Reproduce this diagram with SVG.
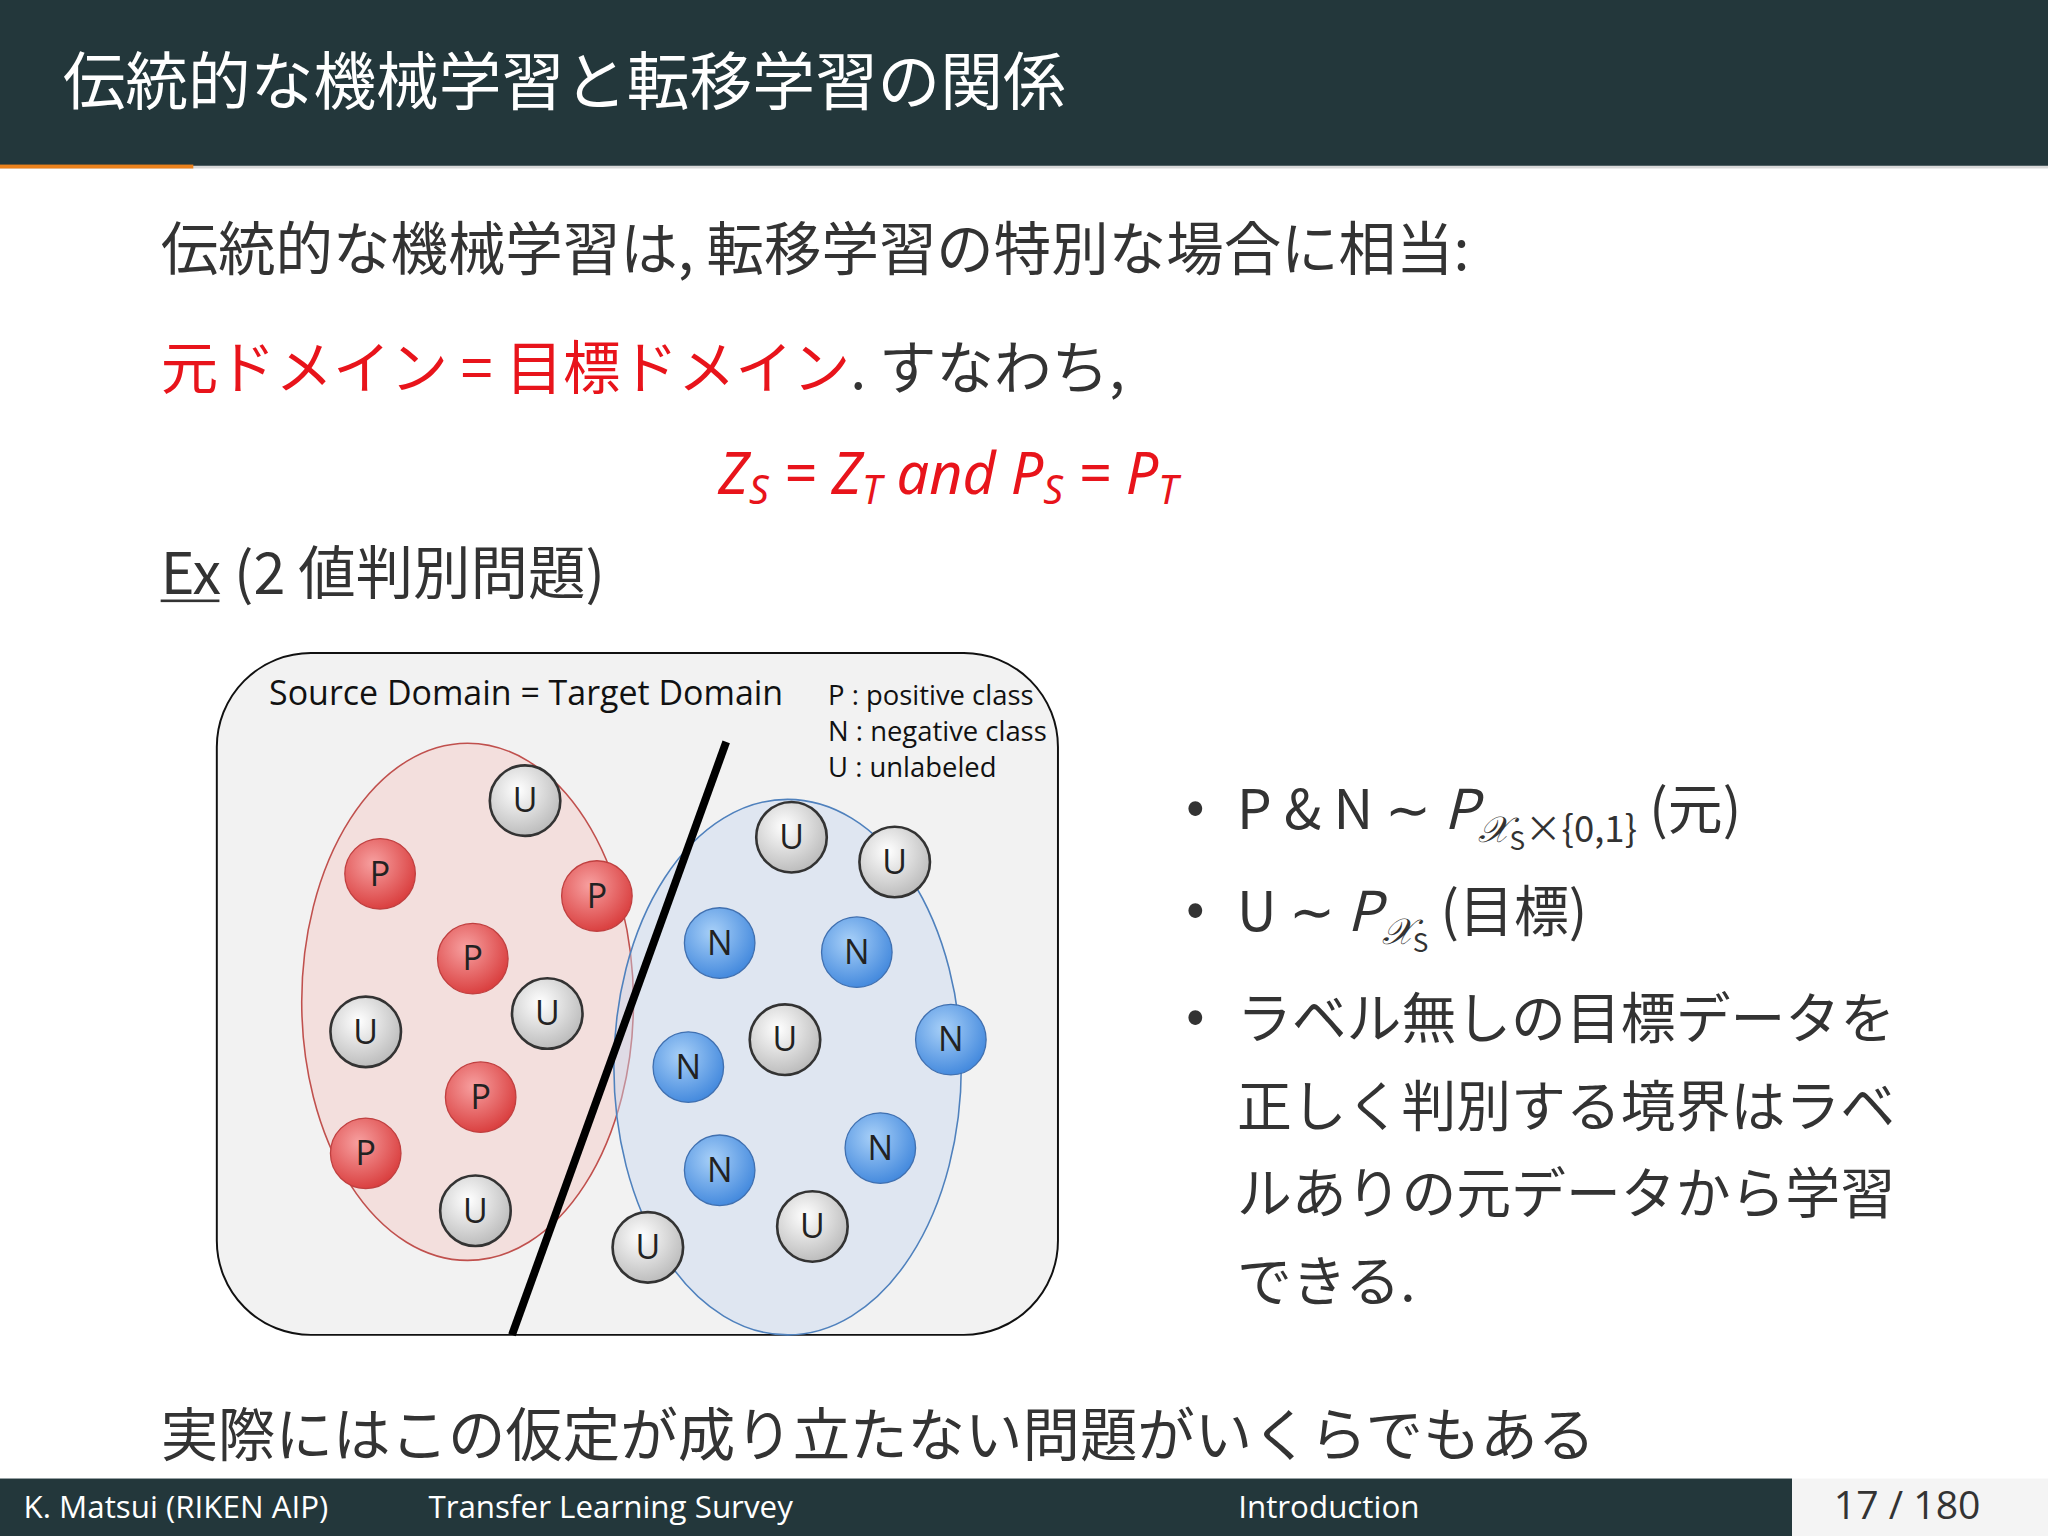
<svg xmlns="http://www.w3.org/2000/svg" width="2048" height="1536" viewBox="0 0 2048 1536">
<style>
.jp{font-family:"Noto Sans CJK JP","Noto Sans",sans-serif}
.t{fill:#333}
.red{fill:#e8141b}
.m{font-family:"Noto Sans","Open Sans",sans-serif;font-style:italic;fill:#e8141b}
.lab{font-family:"Open Sans","Liberation Sans",sans-serif;font-size:26px;text-anchor:middle;fill:#222}
.cP{fill:url(#gP);stroke:#c04040;stroke-width:1}
.cN{fill:url(#gN);stroke:#4070b0;stroke-width:1}
.cU{fill:url(#gU);stroke:#333;stroke-width:2}
.leg{font-family:"Open Sans","Liberation Sans",sans-serif;font-size:21px;fill:#111}
</style>
<defs>
<radialGradient id="gP" cx="0.4" cy="0.35" r="0.7"><stop offset="0" stop-color="#f7a0a0"/><stop offset="1" stop-color="#d83a3a"/></radialGradient>
<radialGradient id="gN" cx="0.4" cy="0.35" r="0.7"><stop offset="0" stop-color="#a8d0f8"/><stop offset="1" stop-color="#3f86dc"/></radialGradient>
<radialGradient id="gU" cx="0.4" cy="0.35" r="0.7"><stop offset="0" stop-color="#ffffff"/><stop offset="1" stop-color="#b8b8b8"/></radialGradient>
</defs>
<rect width="2048" height="1536" fill="#fff"/>
<g transform="scale(1.30612)">
<g id="header">
<rect x="0" y="0" width="1568" height="127" fill="#23373b"/>
<rect x="0" y="127" width="1568" height="2" fill="#d8d8d8"/>
<rect x="0" y="126" width="148" height="3" fill="#eb811b"/>
<text x="48" y="80" class="jp" font-size="48" fill="#fff">伝統的な機械学習と転移学習の関係</text>
</g>
<g id="body">
<text x="123" y="207" class="jp t" font-size="44">伝統的な機械学習は, 転移学習の特別な場合に相当:</text>
<text x="123" y="298" class="jp" font-size="44"><tspan class="red">元ドメイン = 目標ドメイン</tspan><tspan class="t">. すなわち,</tspan></text>
<text x="550" y="378" font-size="44"><tspan class="m">Z</tspan><tspan class="m" font-size="30" dy="8">S</tspan><tspan class="m" font-style="normal" dy="-8"> = </tspan><tspan class="m">Z</tspan><tspan class="m" font-size="30" dy="8">T</tspan><tspan class="m" font-style="normal" dy="-8" font-family="Open Sans">    and    </tspan><tspan class="m">P</tspan><tspan class="m" font-size="30" dy="8">S</tspan><tspan class="m" font-style="normal" dy="-8"> = </tspan><tspan class="m">P</tspan><tspan class="m" font-size="30" dy="8">T</tspan></text>
<text x="123" y="455" class="jp t" font-size="44">Ex (2 値判別問題)</text>
<rect x="123" y="459" width="45" height="2" fill="#333"/>
</g>
<g id="figure">
<rect x="166" y="500" width="644" height="522" rx="72" fill="#f2f2f2" stroke="#111" stroke-width="1.5"/>
<text x="206" y="540" font-family="Open Sans,Liberation Sans,sans-serif" font-size="26" fill="#111">Source Domain = Target Domain</text>
<text x="634" y="540" class="leg">P : positive class</text>
<text x="634" y="567" class="leg">N : negative class</text>
<text x="634" y="595" class="leg">U : unlabeled</text>
<ellipse cx="358" cy="767" rx="127" ry="198" fill="#f4c8c4" fill-opacity="0.45" stroke="#c0504d" stroke-width="1.2"/>
<ellipse cx="603" cy="817" rx="133" ry="205" fill="#c8d8f0" fill-opacity="0.45" stroke="#4f81bd" stroke-width="1.2"/>
<line x1="556" y1="568" x2="392" y2="1022" stroke="#000" stroke-width="6"/>
<g id="nodes">
<circle cx="402" cy="613" r="27" class="cU"/><text x="402" y="622" class="lab">U</text>
<circle cx="291" cy="669" r="27" class="cP"/><text x="291" y="678" class="lab">P</text>
<circle cx="457" cy="686" r="27" class="cP"/><text x="457" y="695" class="lab">P</text>
<circle cx="362" cy="734" r="27" class="cP"/><text x="362" y="743" class="lab">P</text>
<circle cx="419" cy="776" r="27" class="cU"/><text x="419" y="785" class="lab">U</text>
<circle cx="280" cy="790" r="27" class="cU"/><text x="280" y="799" class="lab">U</text>
<circle cx="368" cy="840" r="27" class="cP"/><text x="368" y="849" class="lab">P</text>
<circle cx="280" cy="883" r="27" class="cP"/><text x="280" y="892" class="lab">P</text>
<circle cx="364" cy="927" r="27" class="cU"/><text x="364" y="936" class="lab">U</text>
<circle cx="606" cy="641" r="27" class="cU"/><text x="606" y="650" class="lab">U</text>
<circle cx="685" cy="660" r="27" class="cU"/><text x="685" y="669" class="lab">U</text>
<circle cx="551" cy="722" r="27" class="cN"/><text x="551" y="731" class="lab">N</text>
<circle cx="656" cy="729" r="27" class="cN"/><text x="656" y="738" class="lab">N</text>
<circle cx="601" cy="796" r="27" class="cU"/><text x="601" y="805" class="lab">U</text>
<circle cx="527" cy="817" r="27" class="cN"/><text x="527" y="826" class="lab">N</text>
<circle cx="728" cy="796" r="27" class="cN"/><text x="728" y="805" class="lab">N</text>
<circle cx="674" cy="879" r="27" class="cN"/><text x="674" y="888" class="lab">N</text>
<circle cx="551" cy="896" r="27" class="cN"/><text x="551" y="905" class="lab">N</text>
<circle cx="622" cy="939" r="27" class="cU"/><text x="622" y="948" class="lab">U</text>
<circle cx="496" cy="955" r="27" class="cU"/><text x="496" y="964" class="lab">U</text>
</g>
</g>
<g id="bullets" class="jp t" font-size="42">
<text x="908" y="632">•</text>
<text x="947" y="635">P &amp; N ∼ <tspan font-style="italic">P</tspan><tspan font-size="28" dy="10" font-style="italic">𝒳</tspan><tspan font-size="20" dy="6">S</tspan><tspan font-size="28" dy="-6">×{0,1}</tspan><tspan dy="-10"> (元)</tspan></text>
<text x="908" y="710">•</text>
<text x="947" y="713">U ∼ <tspan font-style="italic">P</tspan><tspan font-size="28" dy="10" font-style="italic">𝒳</tspan><tspan font-size="20" dy="6">S</tspan><tspan dy="-16"> (目標)</tspan></text>
<text x="908" y="792">•</text>
<text x="947" y="795">ラベル無しの目標データを</text>
<text x="947" y="862">正しく判別する境界はラベ</text>
<text x="947" y="929">ルありの元データから学習</text>
<text x="947" y="996">できる.</text>
</g>
<text x="123" y="1115" class="jp t" font-size="44">実際にはこの仮定が成り立たない問題がいくらでもある</text>
<g id="footer">
<rect x="0" y="1132" width="1372" height="44" fill="#23373b"/>
<rect x="1372" y="1132" width="196" height="44" fill="#f4f4f4"/>
<g font-family="Open Sans,Noto Sans,sans-serif" font-size="24" fill="#fff">
<text x="18" y="1162">K. Matsui (RIKEN AIP)</text>
<text x="328" y="1162">Transfer Learning Survey</text>
<text x="948" y="1162">Introduction</text>
</g>
<text x="1404" y="1163" font-family="Open Sans,Noto Sans,sans-serif" font-size="30" fill="#333">17 / 180</text>
</g>
</g>
</svg>
